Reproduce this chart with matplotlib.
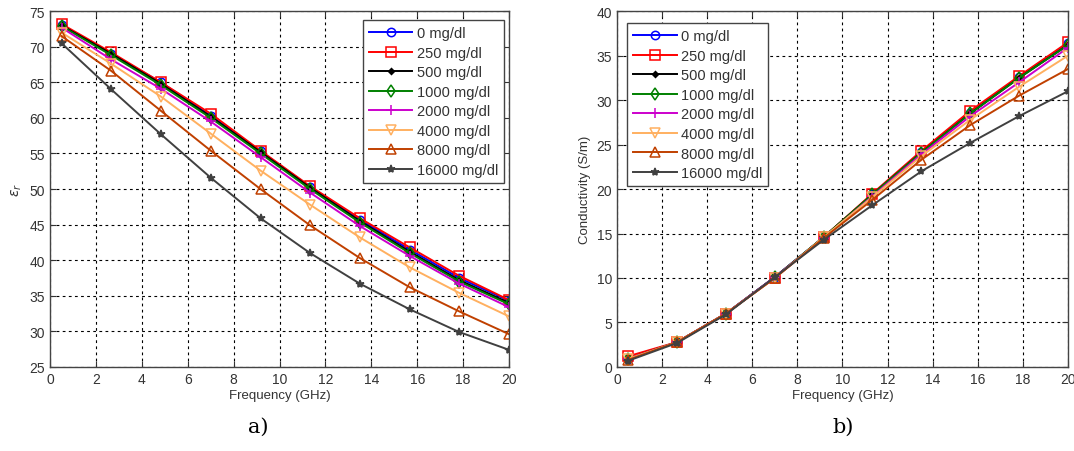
import numpy as np
import matplotlib
matplotlib.use("Agg")
import matplotlib.pyplot as plt

plt.rcParams['font.family'] = ['Liberation Sans', 'DejaVu Sans']

freq = [0.5, 2.67, 4.83, 7.0, 9.17, 11.33, 13.5, 15.67, 17.83, 20.0]
labels = ['0 mg/dl', '250 mg/dl', '500 mg/dl', '1000 mg/dl', '2000 mg/dl',
          '4000 mg/dl', '8000 mg/dl', '16000 mg/dl']

perm_0 = [73.0, 69.0, 65.0, 60.3, 55.3, 50.3, 45.7, 41.5, 37.5, 34.3]
perm_250 = [73.2, 69.2, 65.0, 60.6, 55.4, 50.4, 45.9, 41.8, 37.8, 34.4]
perm_500 = [73.0, 69.0, 64.8, 60.2, 55.2, 50.2, 45.5, 41.2, 37.2, 34.0]
perm_1000 = [72.9, 68.8, 64.6, 60.0, 55.0, 50.0, 45.3, 41.0, 37.0, 33.8]
perm_2000 = [72.7, 68.2, 64.1, 59.5, 54.5, 49.5, 44.8, 40.6, 36.7, 33.4]
perm_4000 = [72.0, 67.6, 63.0, 57.8, 52.6, 47.8, 43.2, 39.0, 35.4, 32.1]
perm_8000 = [71.5, 66.6, 61.0, 55.4, 50.0, 44.9, 40.3, 36.2, 32.8, 29.6]
perm_16000 = [70.5, 64.0, 57.7, 51.6, 45.9, 41.0, 36.7, 33.1, 29.9, 27.4]

cond_0 = [0.9, 2.8, 6.0, 10.1, 14.6, 19.4, 24.2, 28.6, 32.6, 36.4]
cond_250 = [1.2, 2.8, 6.0, 10.0, 14.6, 19.5, 24.3, 28.8, 32.7, 36.5]
cond_500 = [0.9, 2.8, 6.0, 10.1, 14.6, 19.4, 24.1, 28.5, 32.5, 36.2]
cond_1000 = [0.9, 2.8, 6.0, 10.1, 14.6, 19.4, 24.1, 28.5, 32.5, 36.2]
cond_2000 = [0.9, 2.8, 6.0, 10.1, 14.5, 19.2, 23.9, 28.2, 32.0, 35.9]
cond_4000 = [0.9, 2.8, 6.0, 10.0, 14.6, 19.1, 23.7, 27.8, 31.5, 35.0]
cond_8000 = [0.8, 2.8, 6.0, 10.0, 14.5, 18.8, 23.3, 27.2, 30.5, 33.5]
cond_16000 = [0.7, 2.7, 5.9, 10.1, 14.3, 18.2, 22.0, 25.2, 28.2, 31.0]

perm = [perm_0, perm_250, perm_500, perm_1000, perm_2000, perm_4000, perm_8000, perm_16000]
cond = [cond_0, cond_250, cond_500, cond_1000, cond_2000, cond_4000, cond_8000, cond_16000]

colors = ['#0000ff', '#ff0000', '#000000', '#008000', '#cc00cc', '#ffb060', '#c04000', '#404040']
markers = ['o', 's', 'D', 'd', '+', 'v', '^', '*']
msizes = [6, 6.5, 3, 6.5, 7, 6.5, 6.5, 6]
mfaces = ['none', 'none', '#000000', 'none', '#cc00cc', 'none', 'none', '#404040']

fig = plt.figure(figsize=(10.74, 4.52), dpi=100)
ax1 = fig.add_axes([0.0466, 0.186, 0.4274, 0.787])
ax2 = fig.add_axes([0.5745, 0.186, 0.4199, 0.787])

def style(ax):
    ax.set_xlim(0, 20)
    ax.set_xticks(range(0, 21, 2))
    ax.grid(True, color='black', linestyle=(0, (2.5, 3)), linewidth=0.8)
    ax.tick_params(direction='in', top=True, right=True, labelsize=10,
                   labelcolor='#333333', length=4, color='#333333')
    for s in ax.spines.values():
        s.set_color('#444444')
        s.set_linewidth(1.0)
    ax.set_xlabel('Frequency (GHz)', fontsize=9.5, color='#333333', labelpad=2)

for i in range(8):
    ax1.plot(freq, perm[i], color=colors[i], marker=markers[i], ms=msizes[i],
             mfc=mfaces[i], mec=colors[i], lw=1.4, mew=1.1, label=labels[i])
    ax2.plot(freq, cond[i], color=colors[i], marker=markers[i], ms=msizes[i],
             mfc=mfaces[i], mec=colors[i], lw=1.4, mew=1.1, label=labels[i])

style(ax1)
style(ax2)
ax1.set_ylim(25, 75)
ax1.set_yticks(range(25, 76, 5))
ax2.set_ylim(0, 40)
ax2.set_yticks(range(0, 41, 5))
ax1.set_ylabel(r'$\epsilon_r$', fontsize=10, color='#333333', labelpad=4)
ax2.set_ylabel('Conductivity (S/m)', fontsize=9.5, color='#333333', labelpad=4)

leg1 = ax1.legend(loc='upper right', fontsize=10.5, frameon=True, fancybox=False,
                  borderpad=0.4, labelspacing=0.38, handlelength=3,
                  handletextpad=0.3, bbox_to_anchor=(1.005, 0.995))
leg2 = ax2.legend(loc='upper left', fontsize=10.5, frameon=True, fancybox=False,
                  borderpad=0.4, labelspacing=0.38, handlelength=3,
                  handletextpad=0.3, bbox_to_anchor=(0.006, 0.986))
for leg in (leg1, leg2):
    leg.get_frame().set_edgecolor('#444444')
    leg.get_frame().set_linewidth(1.0)
    leg.get_frame().set_alpha(1)
    for t in leg.get_texts():
        t.set_color('#333333')

fig.text(0.2405, 0.033, 'a)', fontsize=15, family='DejaVu Serif', ha='center', va='bottom')
fig.text(0.785, 0.033, 'b)', fontsize=15, family='DejaVu Serif', ha='center', va='bottom')

fig.savefig('out.png', dpi=100)
